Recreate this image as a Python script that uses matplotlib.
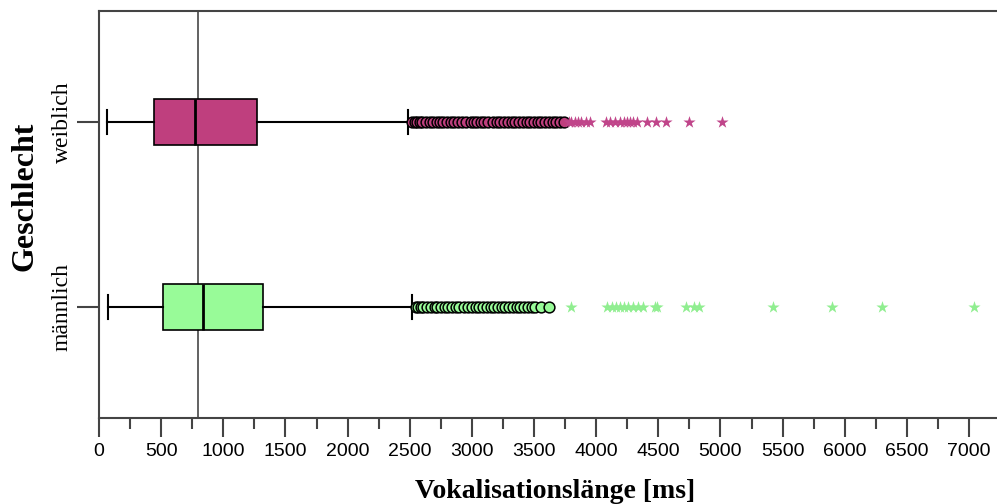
import matplotlib

matplotlib.use("Agg")
import matplotlib.pyplot as plt

# groups, bottom to top
GROUPS = ["männlich", "weiblich"]
BOX_COLORS = ["#98fb98", "#bf3f7e"]
STAR_COLORS = ["#90ee90", "#c0458a"]

# box statistics (ms)
WHISLO = [73, 65]
Q1 = [516, 444]
MEDIAN = [839, 770]
Q3 = [1323, 1274]
WHISHI = [2520, 2490]

# outliers (circles) and extreme values (stars)
OUT_M = [2550, 2570, 2590, 2610, 2640, 2670, 2700, 2720, 2750, 2780, 2810,
         2840, 2870, 2900, 2940, 2970, 3000, 3030, 3060, 3090, 3120, 3150,
         3180, 3210, 3240, 3270, 3300, 3330, 3360, 3390, 3420, 3450, 3480,
         3510, 3560, 3620]
OUT_W = [2520, 2540, 2560, 2580, 2600, 2630, 2660, 2690, 2720, 2740, 2770,
         2800, 2830, 2860, 2890, 2920, 2950, 2990, 3020, 3040, 3070, 3100,
         3130, 3170, 3200, 3230, 3260, 3290, 3320, 3350, 3380, 3410, 3440,
         3470, 3500, 3530, 3560, 3590, 3620, 3650, 3680, 3710, 3740]
EXT_M = [3800, 4090, 4130, 4160, 4190, 4220, 4260, 4300, 4340, 4380, 4470,
         4490, 4720, 4790, 4830, 5420, 5900, 6300, 7040]
EXT_W = [3780, 3800, 3830, 3850, 3880, 3920, 3950, 4080, 4110, 4150, 4190,
         4220, 4250, 4270, 4300, 4330, 4410, 4480, 4560, 4750, 5010]

REF_LINE = 800

SERIF = "Liberation Serif"
SANS = "Liberation Sans"


def main():
    fig = plt.figure(figsize=(9.97, 5.04), dpi=100)
    ax = fig.add_axes([99 / 997, 1 - 418 / 504, 898 / 997, 407 / 504])

    stats = []
    for i, g in enumerate(GROUPS):
        stats.append(dict(label=g, whislo=WHISLO[i], q1=Q1[i], med=MEDIAN[i],
                          q3=Q3[i], whishi=WHISHI[i], fliers=[]))

    ax.axvline(REF_LINE, color="#555555", lw=1.3, zorder=1)

    bp = ax.bxp(stats, positions=[0, 1], widths=0.25, vert=False,
                patch_artist=True, showfliers=False, capwidths=0.13,
                boxprops=dict(edgecolor="black", linewidth=1.2),
                medianprops=dict(color="black", linewidth=2),
                whiskerprops=dict(color="black", linewidth=1.5),
                capprops=dict(color="black", linewidth=1.5))
    for patch, c in zip(bp["boxes"], BOX_COLORS):
        patch.set_facecolor(c)
        patch.set_zorder(2)

    outs = [OUT_M, OUT_W]
    exts = [EXT_M, EXT_W]
    for i in range(len(GROUPS)):
        ax.scatter(outs[i], [i] * len(outs[i]), s=60, marker="o",
                   facecolor=BOX_COLORS[i], edgecolor="black", linewidth=1.1,
                   zorder=3)
        ax.scatter(exts[i], [i] * len(exts[i]), s=85, marker="*",
                   color=STAR_COLORS[i], linewidth=0, zorder=3)

    ax.set_xlim(0, 7225)
    ax.set_ylim(-0.6, 1.6)

    ax.set_xticks(range(0, 7001, 500))
    ax.set_xticks(range(250, 7226, 500), minor=True)
    ax.set_xticklabels([str(v) for v in range(0, 7001, 500)],
                       fontfamily=SANS, fontsize=14)
    ax.tick_params(axis="x", which="major", length=14, width=1.5,
                   color="#444444", pad=4)
    ax.tick_params(axis="x", which="minor", length=8, width=1.5,
                   color="#444444")

    ax.set_yticks([0, 1])
    ax.set_yticklabels(GROUPS, rotation=90, va="center",
                       fontfamily=SERIF, fontsize=17)
    ax.tick_params(axis="y", length=16, width=1.5, color="#444444", pad=3)

    ax.set_xlabel("Vokalisationslänge [ms]", fontfamily=SERIF,
                  fontweight="bold", fontsize=20, labelpad=14)
    ax.set_ylabel("Geschlecht", fontfamily=SERIF, fontweight="bold",
                  fontsize=23)
    ax.yaxis.set_label_coords(-0.066, 0.545)
    ax.xaxis.label.set_x(0.508)

    for side in ("left", "bottom", "top"):
        ax.spines[side].set_color("#444444")
        ax.spines[side].set_linewidth(1.5)
    ax.spines["right"].set_visible(False)

    fig.savefig("out.png", dpi=100)


if __name__ == "__main__":
    main()
